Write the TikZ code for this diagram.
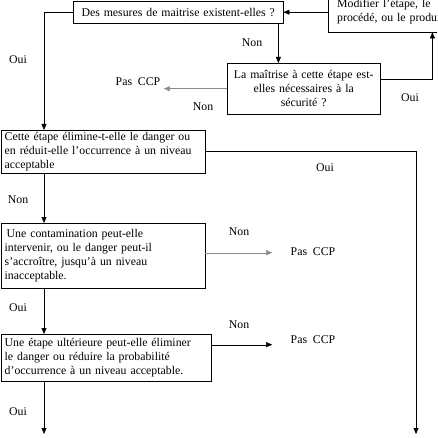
\documentclass[tikz,border=0pt]{standalone}
\usepackage{fontspec}
\setmainfont{Liberation Serif}
\usetikzlibrary{arrows.meta}
\begin{document}
\begin{tikzpicture}[x=1pt, y=-1pt,
  every node/.style={font=\fontsize{11.8}{14}\selectfont},
  qbox/.style={draw, anchor=north west, inner xsep=4pt, inner ysep=2pt, align=left},
  lbl/.style={inner sep=0pt},
  arr/.style={-{Triangle[length=6pt,width=5pt]}},
  faint/.style={draw=black!45}]
  \clip (0,0) rectangle (437,438);

  \node[qbox, text width=202pt, minimum height=22pt, align=center] (q1) at (73,1) {Des mesures de maitrise existent-elles ?};
  \node[qbox, inner xsep=9pt, text width=120pt, minimum height=41pt] (mod) at (328,-9) {Modifier l’étape, le\\procédé, ou le produit};
  \node[qbox, inner xsep=3pt, text width=147pt, minimum height=51pt, align=center] (q2) at (227,63) {La maîtrise à cette étape est-\\elles nécessaires à la\\sécurité ?};
  \node[qbox, text width=196.5pt, minimum height=43pt] (q3) at (0.5,130) {Cette étape élimine-t-elle le danger ou\\en réduit-elle l’occurrence à un niveau\\acceptable};
  \node[qbox, text width=196.5pt, minimum height=65pt] (q4) at (0.5,223) {\hspace{2pt}Une contamination peut-elle\\intervenir, ou le danger peut-il\\s’accroître, jusqu’à un niveau\\inacceptable.};
  \node[qbox, text width=202.5pt, minimum height=47pt] (q5) at (0.5,334) {Une étape ultérieure peut-elle éliminer\\le danger ou réduire la probabilité\\d’occurrence à un niveau acceptable.};

  \node (p1) at (138,82) {Pas~~CCP};
  \node (p2) at (313,252) {Pas~~CCP};
  \node (p3) at (313,340) {Pas~~CCP};

  \coordinate (e1) at (416,434);
  \coordinate (e2) at (44,434);

  % answers
  \node[lbl] (o1) at (18,60) {Oui};
  \node[lbl] (n1) at (252,43) {Non};
  \node[lbl] (o2) at (410,98) {Oui};
  \node[lbl] (n2) at (203,107) {Non};
  \node[lbl] (o3) at (325,168) {Oui};
  \node[lbl] (n3) at (18,200) {Non};
  \node[lbl] (n4) at (239,232) {Non};
  \node[lbl] (o4) at (18,308) {Oui};
  \node[lbl] (n5) at (239,325) {Non};
  \node[lbl] (o5) at (18,412) {Oui};

  \draw[arr] (q1.west) -| ([xshift=43.5pt]q3.north west);
  \draw[arr] (mod.west |- q1.east) -- (q1.east);
  \draw[arr] ([xshift=-5pt]q1.south east) -- ([xshift=-5pt]q1.south east |- q2.north);
  \draw[arr] ([yshift=9pt]q2.east) -| ([xshift=-34pt]mod.south east);
  \draw[arr, faint] (q2.west) -- (q2.west -| p1.east);
  \draw[arr] (q3.east) -| (e1);
  \draw[arr] ([xshift=43.5pt]q3.south west) -- ([xshift=43.5pt]q4.north west);
  \draw[arr, faint, shorten >=15pt] ([yshift=3pt]q4.east) -- ([yshift=3pt]q4.east -| p2.west);
  \draw[arr] ([xshift=43.5pt]q4.south west) -- ([xshift=43.5pt]q5.north west);
  \draw[arr, shorten >=15pt] ([yshift=13pt]q5.east) -- ([yshift=13pt]q5.east -| p3.west);
  \draw[arr] ([xshift=43.5pt]q5.south west) -- (e2);
\end{tikzpicture}
\end{document}
